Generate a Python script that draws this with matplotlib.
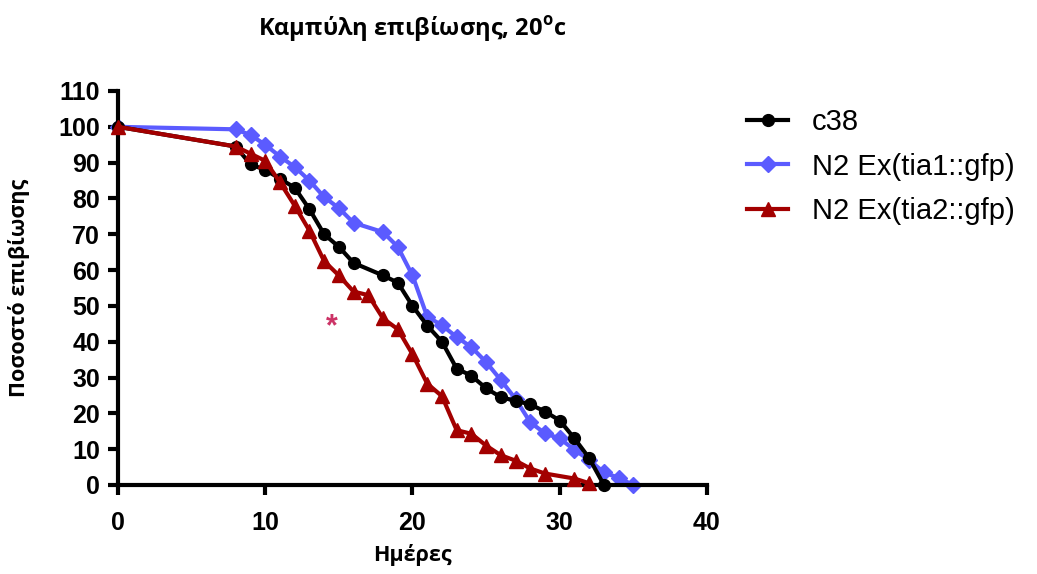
import matplotlib
matplotlib.use('Agg')
import matplotlib.pyplot as plt

# survival data (days, percent survival)
c38_days = [0, 8, 9, 10, 11, 12, 13, 14, 15, 16, 18, 19, 20, 21, 22, 23, 24, 25, 26, 27, 28, 29, 30, 31, 32, 33]
c38_surv = [100, 94.5, 89.5, 88, 85.5, 83, 77, 70, 66.5, 62, 58.5, 56.5, 50, 44.5, 40, 32.5, 30.5, 27, 24.5, 23.5, 22.5, 20.5, 18, 13, 7.5, 0]

tia1_days = [0, 8, 9, 10, 11, 12, 13, 14, 15, 16, 18, 19, 20, 21, 22, 23, 24, 25, 26, 27, 28, 29, 30, 31, 32, 33, 34, 35]
tia1_surv = [100, 99.3, 97.7, 95, 91.7, 88.8, 85, 80.4, 77.3, 73.2, 70.6, 66.5, 58.5, 47, 44.6, 41.3, 38.5, 34.3, 29.3, 24, 17.5, 14.4, 13, 9.8, 7, 3.5, 2, 0]

tia2_days = [0, 8, 9, 10, 11, 12, 13, 14, 15, 16, 17, 18, 19, 20, 21, 22, 23, 24, 25, 26, 27, 28, 29, 31, 32]
tia2_surv = [100, 94.5, 92.5, 90.5, 84.5, 78, 71, 62.5, 58.5, 54, 53, 46.5, 43.5, 36.5, 28.3, 24.8, 15.3, 14.3, 11, 8.3, 6.8, 4.6, 3.2, 1.8, 0.5]

labels = ['c38', 'N2 Ex(tia1::gfp)', 'N2 Ex(tia2::gfp)']
colors = ['#000000', '#5b5bff', '#a30000']

plt.rcParams['mathtext.fontset'] = 'custom'
plt.rcParams['mathtext.rm'] = 'Open Sans:bold'
plt.rcParams['mathtext.bf'] = 'Open Sans:bold'

fig = plt.figure(figsize=(10.37, 5.74), dpi=100)
ax = fig.add_axes([118/1037, 1 - 485/574, (707-118)/1037, (485-91)/574])

ax.plot(c38_days, c38_surv, color=colors[0], lw=3, marker='o', ms=8.5, label=labels[0], clip_on=False, zorder=3)
ax.plot(tia1_days, tia1_surv, color=colors[1], lw=3, marker='D', ms=8, label=labels[1], clip_on=False, zorder=2)
ax.plot(tia2_days, tia2_surv, color=colors[2], lw=3, marker='^', ms=10.5, label=labels[2], clip_on=False, zorder=4)

ax.set_xlim(0, 40)
ax.set_ylim(0, 110)
ax.set_xticks(range(0, 41, 10))
ax.set_yticks(range(0, 111, 10))
for s in ['top', 'right']:
    ax.spines[s].set_visible(False)
for s in ['left', 'bottom']:
    ax.spines[s].set_linewidth(3)
ax.tick_params(width=3, length=7, direction='out', labelsize=18)
ax.tick_params(axis='x', pad=12)
ax.tick_params(axis='y', pad=6)
for t in ax.get_xticklabels() + ax.get_yticklabels():
    t.set_family('Liberation Sans')
    t.set_fontweight('bold')

ax.text(14.5, 44, '*', color='#cc3366', fontsize=22, fontweight='bold',
        ha='center', va='center', family='Liberation Sans')

fig.text(412/1037, 1 - 30/574, r'Καμπύλη επιβίωσης, 20$^{\mathrm{o}}$c', ha='center', va='center',
         family='Open Sans', fontweight='bold', fontsize=17)
ax.set_xlabel('Ημέρες', family='Open Sans', fontweight='bold', fontsize=15.5, labelpad=6)
ax.set_ylabel('Ποσοστό επιβίωσης', family='Open Sans', fontweight='bold', fontsize=15.5, labelpad=20)

leg = fig.legend(loc='upper left', bbox_to_anchor=(721/1037, 1 - 82/574), frameon=False,
                 prop={'family': 'Liberation Sans', 'size': 21}, handlelength=1.4,
                 handletextpad=0.82, labelspacing=0.56)

fig.savefig('out.png', dpi=100)
